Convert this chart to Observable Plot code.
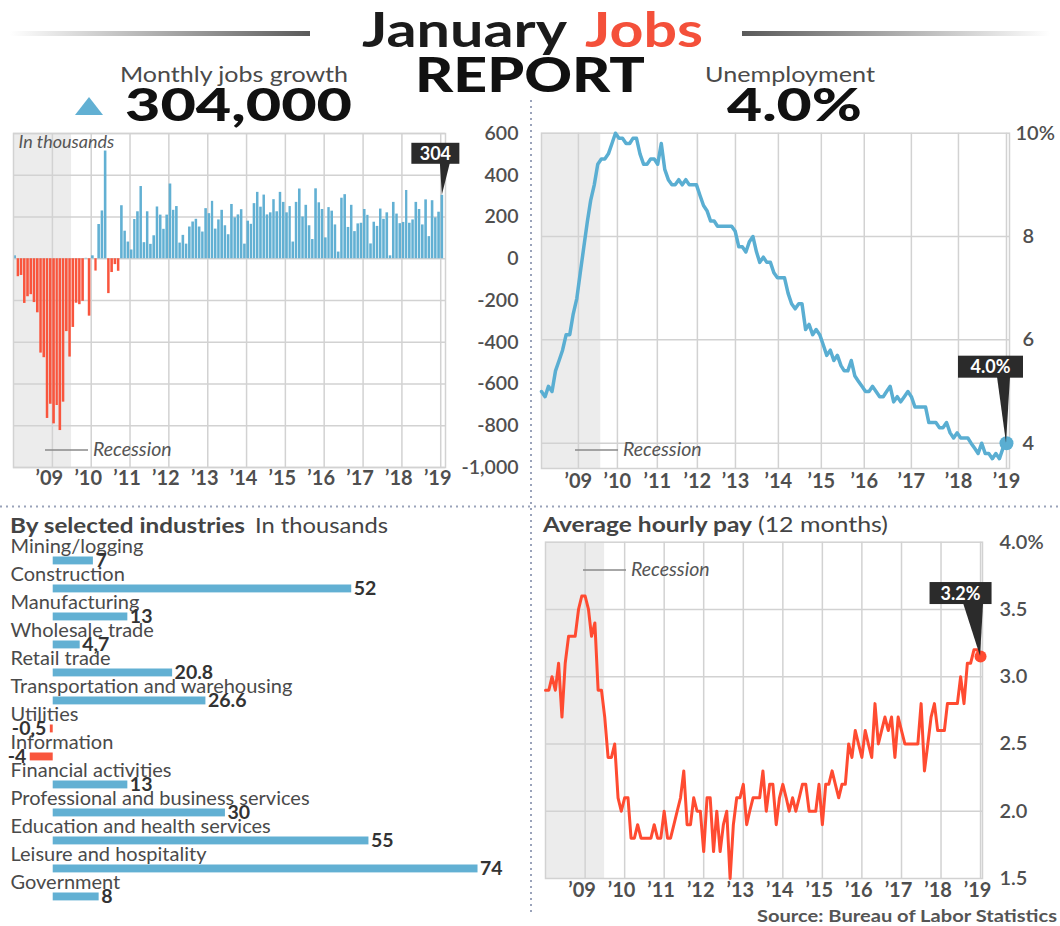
<!DOCTYPE html>
<html>
<head>
<meta charset="utf-8">
<script src="https://cdn.jsdelivr.net/npm/d3@7"></script>
<script src="https://cdn.jsdelivr.net/npm/@observablehq/plot@0.6"></script>
<style>
  body { margin: 0; background: #fff; }
  #root { position: relative; width: 1060px; height: 926px; overflow: hidden; font-family: Lato, "Open Sans", sans-serif; background: #fff; }
  .chart { position: absolute; }
  .chart svg { overflow: visible; }
</style>
</head>
<body>
<div id="root"></div>
<script>
// ---------------- DATA ----------------
const startMonth = new Date(Date.UTC(2008, 0, 1));

// Monthly change in nonfarm payrolls, thousands (Jan 2008 – Jan 2019)
const monthlyJobsGrowth = [
  14, -86, -80, -214, -182, -172, -210, -259, -452, -474, -765, -697,
  -791, -703, -823, -687, -349, -471, -329, -213, -220, -204, 2, -275,
  14, -59, 164, 229, 516, -167, -66, -28, -60, 254, 132, 80,
  42, 188, 225, 346, 77, 225, 69, 110, 248, 209, 141, 209,
  358, 232, 250, 75, 112, 70, 152, 176, 189, 152, 128, 240,
  216, 275, 142, 186, 232, 158, 115, 260, 196, 210, 235, 70,
  180, 165, 264, 318, 247, 305, 210, 220, 283, 225, 318, 270,
  220, 250, 80, 270, 334, 200, 256, 158, 92, 335, 268, 236,
  100, 245, 228, 162, 32, 290, 307, 150, 256, 130, 167, 170,
  236, 208, 71, 175, 155, 238, 189, 220, 14, 270, 214, 168,
  174, 327, 170, 186, 270, 236, 162, 282, 106, 278, 196, 223,
  304
];

// Unemployment rate, % (Jan 2008 – Jan 2019)
const unemploymentRate = [
  5.0, 4.9, 5.1, 5.0, 5.4, 5.6, 5.8, 6.1, 6.1, 6.5, 6.8, 7.3,
  7.8, 8.3, 8.7, 9.0, 9.4, 9.5, 9.5, 9.6, 9.8, 10.0, 9.9, 9.9,
  9.8, 9.8, 9.9, 9.9, 9.6, 9.4, 9.4, 9.5, 9.5, 9.4, 9.8, 9.3,
  9.1, 9.0, 9.0, 9.1, 9.0, 9.1, 9.0, 9.0, 9.0, 8.8, 8.6, 8.5,
  8.3, 8.3, 8.2, 8.2, 8.2, 8.2, 8.2, 8.1, 7.8, 7.8, 7.7, 7.9,
  8.0, 7.7, 7.5, 7.6, 7.5, 7.5, 7.3, 7.2, 7.2, 7.2, 6.9, 6.7,
  6.6, 6.7, 6.7, 6.2, 6.3, 6.1, 6.2, 6.1, 5.9, 5.7, 5.8, 5.6,
  5.7, 5.5, 5.4, 5.4, 5.6, 5.3, 5.2, 5.1, 5.0, 5.0, 5.1, 5.0,
  4.9, 4.9, 5.0, 5.1, 4.8, 4.9, 4.8, 4.9, 5.0, 4.9, 4.7, 4.7,
  4.7, 4.7, 4.4, 4.4, 4.4, 4.3, 4.3, 4.4, 4.2, 4.1, 4.2, 4.1,
  4.1, 4.1, 4.0, 3.9, 3.8, 4.0, 3.8, 3.8, 3.7, 3.8, 3.7, 3.9,
  4.0
];

// Average hourly pay, 12-month % change (Jan 2008 – Jan 2019)
const hourlyPayGrowth = [
  2.9, 2.9, 3.0, 2.9, 3.1, 2.7, 3.1, 3.3, 3.3, 3.3, 3.5, 3.6,
  3.6, 3.5, 3.3, 3.4, 2.9, 2.9, 2.7, 2.4, 2.4, 2.5, 2.1, 2.0,
  2.1, 2.1, 1.8, 1.8, 1.9, 1.8, 1.8, 1.8, 1.8, 1.9, 1.8, 1.8,
  2.0, 1.8, 1.8, 1.9, 2.0, 2.1, 2.3, 1.9, 1.9, 2.1, 2.0, 2.0,
  1.7, 2.1, 2.1, 1.7, 2.0, 1.7, 1.9, 2.0, 1.5, 1.9, 2.1, 2.1,
  2.2, 1.9, 2.0, 2.1, 2.1, 2.1, 2.3, 2.0, 2.2, 2.2, 1.9, 2.1,
  2.2, 2.1, 2.0, 2.1, 2.0, 2.1, 2.2, 2.2, 2.0, 2.0, 2.0, 2.2,
  1.9, 2.2, 2.2, 2.3, 2.2, 2.1, 2.2, 2.2, 2.5, 2.4, 2.6, 2.5,
  2.4, 2.6, 2.5, 2.4, 2.8, 2.5, 2.6, 2.7, 2.6, 2.7, 2.4, 2.7,
  2.6, 2.5, 2.5, 2.5, 2.5, 2.5, 2.8, 2.3, 2.5, 2.7, 2.8, 2.6,
  2.6, 2.6, 2.8, 2.8, 2.8, 2.8, 3.0, 2.8, 3.1, 3.1, 3.2, 3.2,
  3.15
];

const industries = [
  "Mining/logging", "Construction", "Manufacturing", "Wholesale trade", "Retail trade",
  "Transportation and warehousing", "Utilities", "Information", "Financial activities",
  "Professional and business services", "Education and health services",
  "Leisure and hospitality", "Government"
];
const industryValues = [7, 52, 13, 4.7, 20.8, 26.6, -0.5, -4, 13, 30, 55, 74, 8];
const industryLabels = ["7", "52", "13", "4,7", "20.8", "26.6", "-0,5", "-4", "13", "30", "55", "74", "8"];

const yearTicks = [2009, 2010, 2011, 2012, 2013, 2014, 2015, 2016, 2017, 2018, 2019];
// In the unemployment panel the year gridlines are drawn at uneven spots; these are where they sit on its time axis
const unemploymentGridDates = ["2008-11-15", "2009-10-18", "2010-09-28", "2011-09-09", "2012-08-03",
  "2013-08-09", "2014-08-15", "2015-08-21", "2016-10-01", "2017-11-12", "2019-01-01"];
const unemploymentRecessionEnd = "2009-05-27";
const jobsTicks = [600, 400, 200, 0, -200, -400, -600, -800, -1000];
const payTicks = [4.0, 3.5, 3.0, 2.5, 2.0, 1.5];
const recessionPeriod = [{start: "2008-01-01", end: "2009-06-30"}];

// ---------------- STYLE ----------------
const BLUE = "#62b0d3", RED = "#f9553d", LINE_BLUE = "#5aaed2", LINE_RED = "#ff4b31";
const GRID = "#d2d2d2", BAND = "#ececec", AXIS_TEXT = "#4f4f4f", DARK = "#2b2b2b";

// ---------------- HELPERS ----------------
const months = monthlyJobsGrowth.map((_, i) => d3.utcMonth.offset(startMonth, i));
const yearDates = yearTicks.map(y => new Date(Date.UTC(y, 0, 1)));
const yearFmt = d => "\u2019" + String(d.getUTCFullYear()).slice(2);
const recession = recessionPeriod.map(r => ({start: new Date(r.start), end: new Date(r.end)}));
const unempGrid = unemploymentGridDates.map(s => new Date(s));
const unempLabelOf = new Map(unempGrid.map((d, i) => [+d, "\u2019" + String(yearTicks[i]).slice(2)]));
const unempRecession = [{start: recession[0].start, end: new Date(unemploymentRecessionEnd)}];
const root = document.getElementById("root");

function place(chart, left, top, width) {
  const div = document.createElement("div");
  div.className = "chart";
  div.style.left = left + "px";
  div.style.top = top + "px";
  div.style.width = width + "px";
  div.appendChild(chart);
  root.appendChild(div);
}
function scaler(chart, name, kind) {
  const s = chart.scale(name);
  if (s && typeof s.apply === "function") return v => s.apply(v);
  return (kind === "utc" ? d3.scaleUtc() : d3.scaleLinear()).domain(s.domain).range(s.range);
}
const baseStyle = {background: "transparent", fontFamily: "Lato, sans-serif", fontSize: "19px", color: AXIS_TEXT, overflow: "visible"};
const xAxisOpts = {label: null, tickSize: 0, tickFormat: yearFmt, fontSize: 20, fontWeight: 700, fill: AXIS_TEXT};
const yAxisOpts = {label: null, anchor: "right", tickSize: 0, fontSize: 20, fontWeight: 600, fill: AXIS_TEXT};

// ---------------- CHART 1: monthly jobs growth ----------------
const jobsData = monthlyJobsGrowth.map((v, i) => ({date: months[i], end: d3.utcMonth.offset(months[i], 1), v}));
const c1Left = 0, c1Top = 115;
const chart1 = Plot.plot({
  width: 530, height: 375,
  marginLeft: 13, marginRight: 85, marginTop: 18, marginBottom: 23,
  style: baseStyle,
  x: {type: "utc", domain: [startMonth, new Date(Date.UTC(2019, 1, 15))]},
  y: {domain: [-1000, 600]},
  marks: [
    Plot.rect(recession, {x1: "start", x2: "end", fill: BAND}),
    Plot.gridX(yearDates, {stroke: GRID, strokeOpacity: 1, strokeWidth: 1.5}),
    Plot.gridY(jobsTicks, {stroke: GRID, strokeOpacity: 1, strokeWidth: 1.5}),
    Plot.rectY(jobsData.filter(d => d.v >= 0), {x1: "date", x2: "end", y: "v", fill: BLUE, insetLeft: 0.35, insetRight: 0.35}),
    Plot.rectY(jobsData.filter(d => d.v < 0), {x1: "date", x2: "end", y: "v", fill: RED, insetLeft: 0.35, insetRight: 0.35}),
    Plot.frame({stroke: GRID, strokeWidth: 1.5}),
    Plot.axisX(yearDates, {...xAxisOpts, tickPadding: 3, dx: -3}),
    Plot.axisY(jobsTicks, {...yAxisOpts, tickPadding: 3, dx: 70, textAnchor: "end",
      tickFormat: d => d.toLocaleString("en-US"), fontSize: 19.5}),
    Plot.text(["In thousands"], {text: d => d, frameAnchor: "top-left", dx: 5, dy: 2, lineAnchor: "top",
      fontStyle: "italic", fontSize: 18, fill: "#555"})
  ]
});
place(chart1, c1Left, c1Top, 530);

// ---------------- CHART 2: unemployment ----------------
const unempData = unemploymentRate.map((v, i) => ({date: months[i], v}));
const c2Left = 531, c2Top = 115;
const chart2 = Plot.plot({
  width: 529, height: 375,
  marginLeft: 10, marginRight: 51, marginTop: 17.7, marginBottom: 22,
  style: baseStyle,
  x: {type: "utc", domain: [startMonth, new Date(Date.UTC(2019, 0, 27))]},
  y: {domain: [3.51, 10]},
  marks: [
    Plot.rect(unempRecession, {x1: "start", x2: "end", fill: BAND}),
    Plot.gridX(unempGrid, {stroke: GRID, strokeOpacity: 1, strokeWidth: 1.5}),
    Plot.gridY([4, 6, 8], {stroke: GRID, strokeOpacity: 1, strokeWidth: 1.5}),
    Plot.frame({stroke: GRID, strokeWidth: 1.5}),
    Plot.line(unempData, {x: "date", y: "v", stroke: LINE_BLUE, strokeWidth: 3.5, strokeLinejoin: "round"}),
    Plot.dot(unempData.slice(-1), {x: "date", y: "v", r: 7, fill: LINE_BLUE}),
    Plot.axisX(unempGrid, {...xAxisOpts, tickFormat: d => unempLabelOf.get(+d), tickPadding: 5}),
    Plot.axisY([10], {...yAxisOpts, tickPadding: 6, tickFormat: d => d + "%"}),
    Plot.axisY([8, 6, 4], {...yAxisOpts, tickPadding: 13, tickFormat: d => String(d)})
  ]
});
place(chart2, c2Left, c2Top, 529);

// ---------------- CHART 3: industries ----------------
const indData = industries.map((name, i) => ({name, value: industryValues[i], label: industryLabels[i]}));
const c3Left = 0, c3Top = 530;
const chart3 = Plot.plot({
  width: 530, height: 380,
  marginLeft: 10, marginRight: 10, marginTop: 8, marginBottom: 6.2,
  style: baseStyle,
  x: {domain: [-7.44, 81.4], axis: null},
  y: {type: "band", domain: industries, padding: 0, axis: null},
  marks: [
    Plot.barX(indData.filter(d => d.value >= 0), {y: "name", x: "value", fill: BLUE, insetTop: 17.5, insetBottom: 2.6}),
    Plot.barX(indData.filter(d => d.value < 0), {y: "name", x: "value", fill: RED, insetTop: 17.5, insetBottom: 2.6}),
    Plot.text(indData, {y: "name", text: "name", frameAnchor: "left", textAnchor: "start", dy: -7, fontSize: 20, fill: "#4a4a4a"}),
    Plot.text(indData.filter(d => d.value >= 0), {y: "name", x: "value", text: "label", textAnchor: "start", dx: 2, dy: 7.5, fontSize: 19.5, fontWeight: 700, fill: "#333"}),
    Plot.text(indData.filter(d => d.value < 0), {y: "name", x: "value", text: "label", textAnchor: "end", dx: -4, dy: 7.5, fontSize: 19.5, fontWeight: 700, fill: "#333"})
  ]
});
place(chart3, c3Left, c3Top, 530);

// ---------------- CHART 4: hourly pay ----------------
const payData = hourlyPayGrowth.map((v, i) => ({date: months[i], v}));
const c4Left = 531, c4Top = 530;
const chart4 = Plot.plot({
  width: 529, height: 380,
  marginLeft: 14, marginRight: 78, marginTop: 11.7, marginBottom: 32,
  style: baseStyle,
  x: {type: "utc", domain: [startMonth, new Date(Date.UTC(2019, 0, 19))]},
  y: {domain: [1.5, 4.0]},
  marks: [
    Plot.rect(recession, {x1: "start", x2: "end", fill: BAND}),
    Plot.gridX(yearDates, {stroke: GRID, strokeOpacity: 1, strokeWidth: 1.5}),
    Plot.gridY([2.0, 2.5, 3.0, 3.5], {stroke: GRID, strokeOpacity: 1, strokeWidth: 1.5}),
    Plot.frame({stroke: GRID, strokeWidth: 1.5}),
    Plot.line(payData, {x: "date", y: "v", stroke: LINE_RED, strokeWidth: 3, strokeLinejoin: "round"}),
    Plot.dot(payData.slice(-1), {x: "date", y: "v", r: 6, fill: LINE_RED}),
    Plot.axisX(yearDates, {...xAxisOpts, tickPadding: 4, dx: -3}),
    Plot.axisY(payTicks, {...yAxisOpts, tickPadding: 17, tickFormat: d => d === 4 ? "4.0%" : d.toFixed(1)})
  ]
});
place(chart4, c4Left, c4Top, 529);

// ---------------- OVERLAY: headings, separators, callouts ----------------
const ov = d3.select(root).append("svg")
  .attr("width", 1060).attr("height", 926)
  .style("position", "absolute").style("left", "0px").style("top", "0px")
  .style("font-family", "Lato, sans-serif");

const defs = ov.append("defs");
const gl = defs.append("linearGradient").attr("id", "gl");
gl.append("stop").attr("offset", "0%").attr("stop-color", "#ffffff");
gl.append("stop").attr("offset", "100%").attr("stop-color", "#5a5a5a");
const gr = defs.append("linearGradient").attr("id", "gr");
gr.append("stop").attr("offset", "0%").attr("stop-color", "#5a5a5a");
gr.append("stop").attr("offset", "100%").attr("stop-color", "#ffffff");
ov.append("rect").attr("x", 10).attr("y", 31).attr("width", 300).attr("height", 5).attr("fill", "url(#gl)");
ov.append("rect").attr("x", 742).attr("y", 31).attr("width", 308).attr("height", 5).attr("fill", "url(#gr)");

function fitText(txt, x, y, size, weight, fill, len) {
  return ov.append("text").attr("x", x).attr("y", y).attr("font-size", size).attr("font-weight", weight)
    .attr("fill", fill).attr("textLength", len).attr("lengthAdjust", "spacingAndGlyphs").text(txt);
}
fitText("January", 362, 47, 47, 700, "#1b1b1b", 205);
fitText("Jobs", 585, 47, 47, 700, "#f4503a", 118);
fitText("REPORT", 415, 92, 47, 900, "#111", 230);
fitText("Monthly jobs growth", 120, 82, 21, 400, "#4a4a4a", 228);
fitText("304,000", 125, 121, 45, 900, "#111", 227);
fitText("Unemployment", 705, 82, 21, 400, "#4a4a4a", 170);
fitText("4.0%", 727, 121, 45, 900, "#111", 135);
ov.append("path").attr("d", "M75,115L103,115L89,97Z").attr("fill", BLUE);

// section titles
fitText("By selected industries", 10, 533, 21, 700, "#444", 235);
fitText("In thousands", 255, 533, 21, 400, "#444", 133);
fitText("Average hourly pay", 543, 532, 21, 700, "#444", 209);
fitText("(12 months)", 758, 532, 21, 400, "#444", 130);

// separators
ov.append("line").attr("x1", 0).attr("x2", 1060).attr("y1", 506.5).attr("y2", 506.5)
  .attr("stroke", "#9aa3ba").attr("stroke-width", 2).attr("stroke-dasharray", "2 4");
ov.append("line").attr("x1", 531).attr("x2", 531).attr("y1", 100).attr("y2", 912)
  .attr("stroke", "#9aa3ba").attr("stroke-width", 2).attr("stroke-dasharray", "2 4");

// recession annotations
function recessionNote(x, y) {
  ov.append("line").attr("x1", x).attr("x2", x + 43).attr("y1", y).attr("y2", y).attr("stroke", "#8a8a8a").attr("stroke-width", 1.5);
  ov.append("text").attr("x", x + 48).attr("y", y + 6).attr("font-size", 19.5).attr("font-style", "italic").attr("fill", "#555").text("Recession");
}
recessionNote(45, 450);
recessionNote(575, 450);
recessionNote(583, 570);

// callouts
function callout(tipX, tipY, txt, w, h, offX, offY, b1, b2) {
  const cx = tipX + offX, bottom = tipY + offY;
  ov.append("path").attr("d", `M${tipX},${tipY}L${tipX + b1},${bottom - 1}L${tipX + b2},${bottom - 1}Z`).attr("fill", DARK);
  ov.append("rect").attr("x", cx - w / 2).attr("y", bottom - h).attr("width", w).attr("height", h).attr("fill", DARK);
  ov.append("text").attr("x", cx).attr("y", bottom - h / 2).attr("dy", "0.36em").attr("text-anchor", "middle")
    .attr("font-size", 18).attr("font-weight", 700).attr("fill", "#fff").text(txt);
}
const x1s = scaler(chart1, "x", "utc"), y1s = scaler(chart1, "y");
const lastJobs = jobsData[jobsData.length - 1];
callout(c1Left + (x1s(lastJobs.date) + x1s(lastJobs.end)) / 2, c1Top + y1s(lastJobs.v), "304", 48, 21, -6.5, -31, -2, 8);
const x2s = scaler(chart2, "x", "utc"), y2s = scaler(chart2, "y");
const lastU = unempData[unempData.length - 1];
callout(c2Left + x2s(lastU.date), c2Top + y2s(lastU.v), "4.0%", 65, 22, -15.5, -65, -9, 4);
const x4s = scaler(chart4, "x", "utc"), y4s = scaler(chart4, "y");
const lastP = payData[payData.length - 1];
callout(c4Left + x4s(lastP.date), c4Top + y4s(lastP.v), "3.2%", 62, 22, -19.5, -52, -17, 3);

// source
fitText("Source: Bureau of Labor Statistics", 757, 922, 17, 700, "#555", 300);
</script>
</body>
</html>
